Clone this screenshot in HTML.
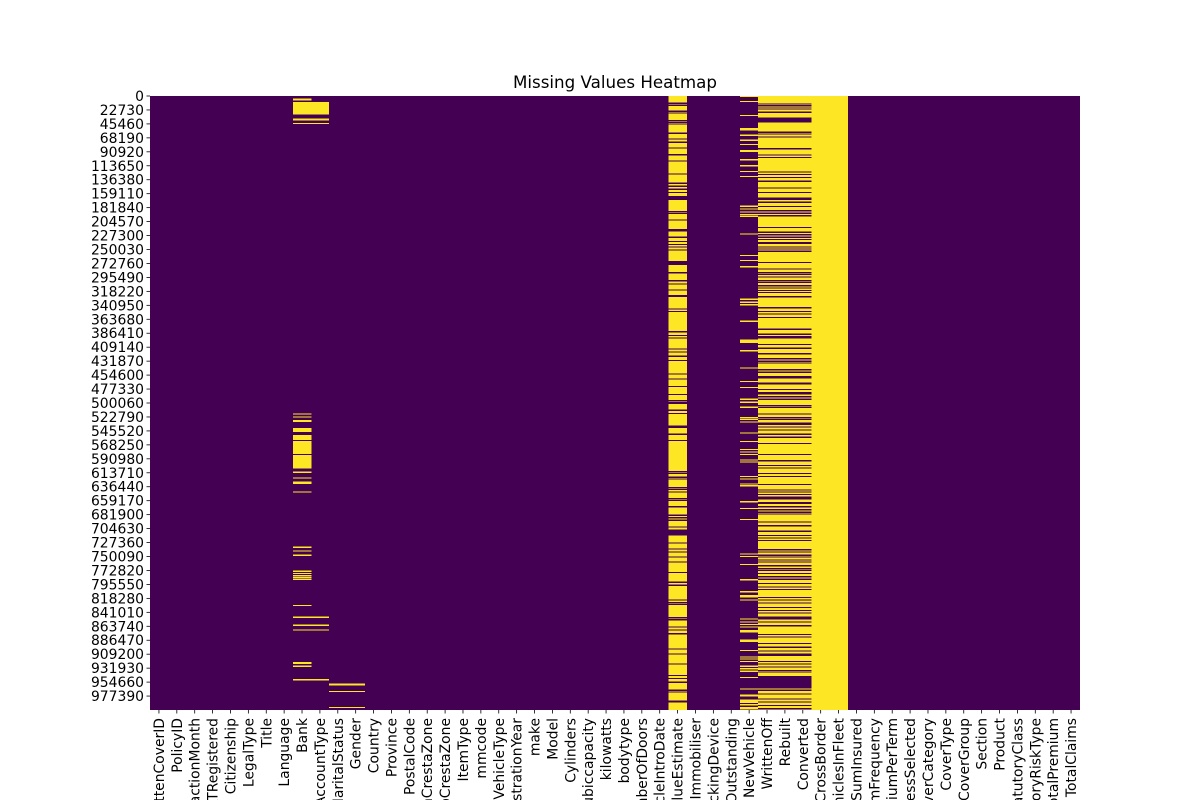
<!DOCTYPE html>
<html><head><meta charset="utf-8"><style>
html,body{margin:0;padding:0;background:#fff;width:1200px;height:800px;overflow:hidden}
svg{display:block;overflow:hidden;font-family:"DejaVu Sans","Liberation Sans",sans-serif}
</style></head><body>
<svg id="chart" width="1200" height="800" viewBox="0 0 1200 800" xmlns="http://www.w3.org/2000/svg">
<defs><clipPath id="frame"><rect x="0" y="0" width="1200" height="800"/></clipPath></defs>
<g clip-path="url(#frame)">
<text x="615" y="88" text-anchor="middle" font-size="16.7" fill="#000">Missing Values Heatmap</text>
<g id="cells" shape-rendering="crispEdges"></g>
<g id="xaxis"></g>
<g id="yaxis"></g>
</g>
</svg>
<script>
const columns = ["UnderwrittenCoverID","PolicyID","TransactionMonth","IsVATRegistered","Citizenship","LegalType","Title","Language","Bank","AccountType","MaritalStatus","Gender","Country","Province","PostalCode","MainCrestaZone","SubCrestaZone","ItemType","mmcode","VehicleType","RegistrationYear","make","Model","Cylinders","cubiccapacity","kilowatts","bodytype","NumberOfDoors","VehicleIntroDate","CustomValueEstimate","AlarmImmobiliser","TrackingDevice","CapitalOutstanding","NewVehicle","WrittenOff","Rebuilt","Converted","CrossBorder","NumberOfVehiclesInFleet","SumInsured","TermFrequency","CalculatedPremiumPerTerm","ExcessSelected","CoverCategory","CoverType","CoverGroup","Section","Product","StatutoryClass","StatutoryRiskType","TotalPremium","TotalClaims"];
const totalRows = 1000098;
const yTickStep = 22730;
const yTickCount = 44;
// ranges in thousands of rows; single number = thin stripe
const bankMissing = [[4.4,7.6],[9.5,30],[37,40],[43.7,45],[517,519],[522,524],[528,531],[541,547],[552,560],[562,583],[585,607],[612,614],[621,623],[628,632],644,734,740,[747,749],[773,775],777,780,783,786,[829,831],[922,925],[928,930],848,[861,863],869,950];
const accountTypeMissing = [[9.5,30],[37,40],[43.7,45],848,[861,863],869,950];
const maritalMissing = [[957,960],969,[995,997]];
const genderMissing = [[957,960],969,[995,997]];
const cvePresent = [10.8,14,24,26.6,39,41.8,44.5,59.7,69,74.4,83.6,[94.5,97],105,126,141,146,151,156,[163,169.4],187,190,201,[216.6,221],229,236,241,245,250,[268.8,275],287,300,305,315,[324,327],346,350,383,389,393,411,416,423,430,452,460,472,485,495,499,498,500,511,516,[537,541],550,560,611,614,620,623,637,640,644,655,658,668,682,686,690,701,706,[708,716],727,737,742,750,758,775,791,796,820,824,827,849,852,864,869,875,900,908,924,943,948,954,967,970,[985,988]];
const newVehicleMissing = [[0,2],8,31,[52,56],63,71,78,[88,91],103,[112,115],122,130,[178,181],183,188,192,195,224,259,267,277,330,335,339,366,[397,402],414,442,464,474,493,498,506,523,526,530,[548,550],562,575,579,583,592,595,619,623,631,634,660,671,689,745,749,762,787,[806,809],813,815,820,851,856,860,864,870,872,885,887,902,913,916,920,928,932,936,946,[965,967],[975,978],[983,989],[990,993],[995,999]];
const rebuiltPresent = [12,14.6,17,20,[25.5,28],[35,43],58,61,66,85,95,99,123,127,132,138,149,156,[165,169],172,179,186,190,194,213,221,225,229,233,[238,241],245,248,252,270,281,287,290,294,300,303,308,312,316,319,326,344,350,354,360,379,387,391,393,404,410,419,427,431,434,445,449,[456,460],[467,470],477,482,484,489,493,503,506,517,523,526,532,534,538,543,550,555,565,583,593,601,605,614,619,632,641,644,648,[652,657],661,663,668,673,677,680,693,699,708,715,719,723,738,742,747,750,755,758,764,769,772,777,782,786,793,799,803,816,820,825,832,837,841,[848,853],856,862,876,880,891,897,903,908,910,920,924,929,935,937,[945,965],967,973,981,986,992,997];
const fullyMissingCols = ["CrossBorder","NumberOfVehiclesInFleet"];

const X0=150, X1=1080, Y0=96, Y1=710;
const PURPLE="#440154", YELLOW="#fde725";
const colW=(X1-X0)/columns.length;
function xScale(i){return X0+i*colW;}
function yScale(r){return Y0+r/totalRows*(Y1-Y0);}
const NS="http://www.w3.org/2000/svg";
function norm(v){return Array.isArray(v)?[v[0]*1000,v[1]*1000]:[v*1000,v*1000+1600];}
const cells=document.getElementById('cells');
function rect(x,y,w,h,fill,name){
  const r=document.createElementNS(NS,'rect');
  r.setAttribute('x',x);r.setAttribute('y',y);r.setAttribute('width',w);r.setAttribute('height',Math.max(h,1.2));r.setAttribute('fill',fill);
  
  
  cells.appendChild(r);
}
rect(X0,Y0,X1-X0,Y1-Y0,PURPLE,'heatmap-background');
const missingMap={Bank:bankMissing,AccountType:accountTypeMissing,MaritalStatus:maritalMissing,Gender:genderMissing,NewVehicle:newVehicleMissing};
const presentMap={CustomValueEstimate:cvePresent,WrittenOff:rebuiltPresent,Rebuilt:rebuiltPresent,Converted:rebuiltPresent};
columns.forEach((c,i)=>{
  const x=xScale(i);
  if(fullyMissingCols.includes(c)){rect(x,Y0,colW+0.3,Y1-Y0,YELLOW,'missing-cell-'+c);}
  if(presentMap[c]){
    rect(x,Y0,colW+0.3,Y1-Y0,YELLOW,'missing-cell-'+c);
    presentMap[c].forEach(v=>{const [a,b]=norm(v);rect(x,yScale(a),colW+0.3,yScale(b)-yScale(a),PURPLE,'present-cell-'+c);});
  }
  if(missingMap[c]){
    missingMap[c].forEach(v=>{const [a,b]=norm(v);rect(x,yScale(a),colW+0.3,yScale(b)-yScale(a),YELLOW,'missing-cell-'+c);});
  }
});
const xa=document.getElementById('xaxis');
columns.forEach((c,i)=>{
  const cx=xScale(i)+colW/2;
  const t=document.createElementNS(NS,'line');
  t.setAttribute('x1',cx);t.setAttribute('x2',cx);t.setAttribute('y1',Y1);t.setAttribute('y2',Y1+3.5);t.setAttribute('stroke','#000');t.setAttribute('stroke-width','0.8');
  
  
  xa.appendChild(t);
  const l=document.createElementNS(NS,'text');
  l.setAttribute('transform','translate('+(cx+5)+','+(Y1+8)+') rotate(-90)');
  l.setAttribute('text-anchor','end');l.setAttribute('font-size','13.9');l.textContent=c;
  
  
  xa.appendChild(l);
});
const ya=document.getElementById('yaxis');
for(let k=0;k<yTickCount;k++){
  const v=k*yTickStep, y=yScale(v);
  const t=document.createElementNS(NS,'line');
  t.setAttribute('x1',X0-3.5);t.setAttribute('x2',X0);t.setAttribute('y1',y);t.setAttribute('y2',y);t.setAttribute('stroke','#000');t.setAttribute('stroke-width','0.8');
  
  
  ya.appendChild(t);
  const l=document.createElementNS(NS,'text');
  l.setAttribute('x',X0-6);l.setAttribute('y',y+5);l.setAttribute('text-anchor','end');l.setAttribute('font-size','13.9');l.textContent=String(v);
  
  
  ya.appendChild(l);
}
</script>
</body></html>
